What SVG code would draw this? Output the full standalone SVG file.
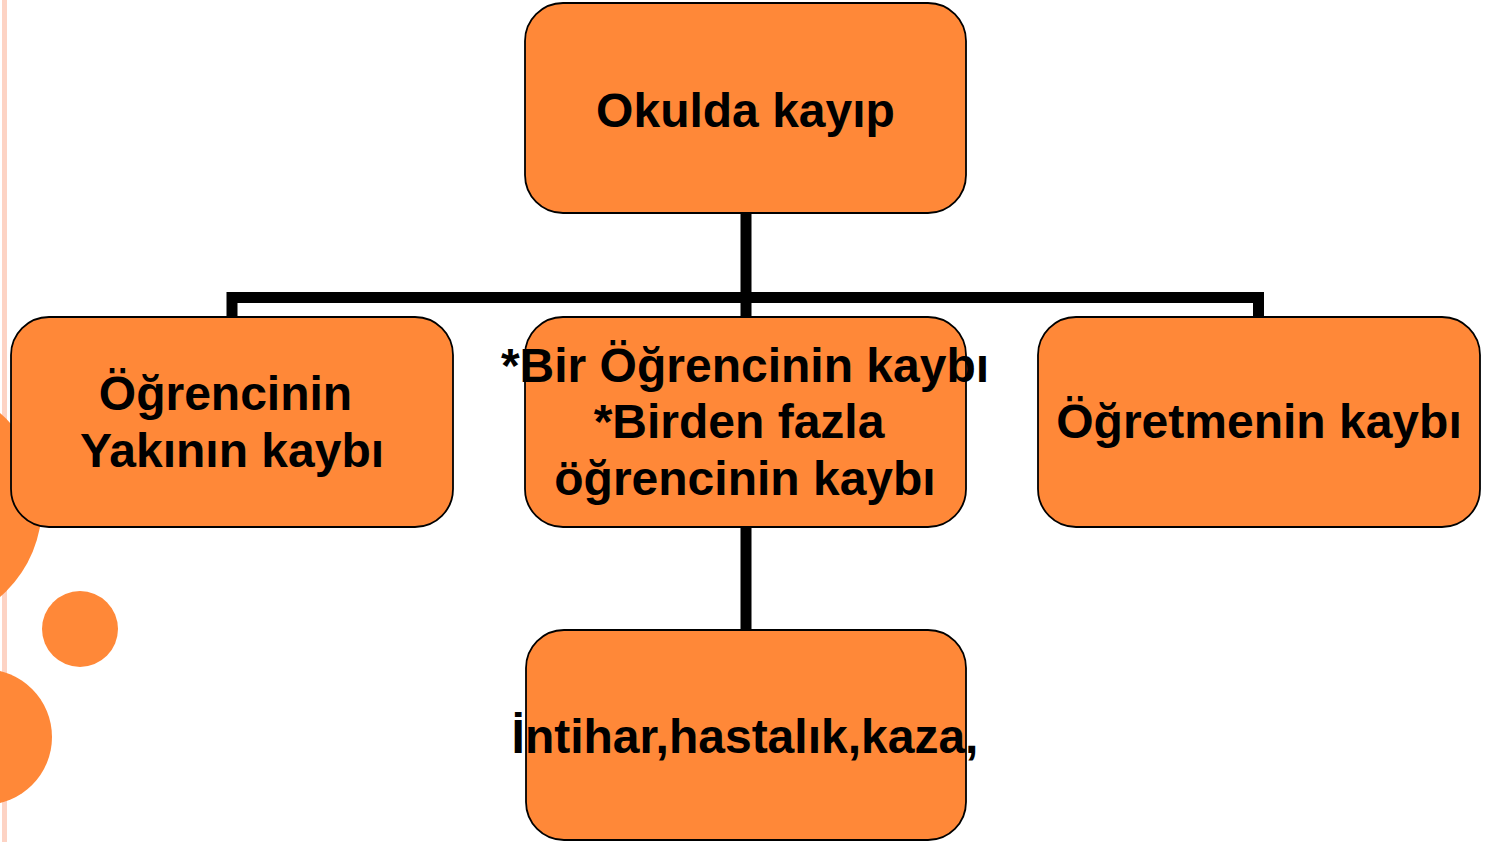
<svg xmlns="http://www.w3.org/2000/svg" width="1503" height="842" viewBox="0 0 1503 842">
<style>
.box{fill:#FF8838;stroke:#000;stroke-width:1.8}
.t{font-family:"Liberation Sans",Arial,sans-serif;font-weight:bold;font-size:48px;fill:#000;text-anchor:middle}
.c{fill:none;stroke:#000;stroke-width:11}
.deco{fill:#FF8838}
</style>
<rect width="1503" height="842" fill="#fff"/>
<g id="decor">
<rect x="2" y="0" width="5" height="842" fill="#FDD3C4"/>
<circle class="deco" cx="-80" cy="505" r="122"/>
<circle class="deco" cx="80" cy="629" r="38"/>
<circle class="deco" cx="-16" cy="737" r="68"/>
</g>
<g id="connectors">
<path class="c" d="M746 213V317"/>
<path class="c" d="M232 317V297.5H1258.5V317"/>
<path class="c" d="M746 527V630"/>
</g>
<g id="n-top">
<rect class="box" x="525" y="3" width="441" height="210" rx="38"/>
<text class="t" x="745.5" y="127">Okulda kayıp</text>
</g>
<g id="n-left">
<rect class="box" x="11" y="317" width="442" height="210" rx="38"/>
<text class="t" x="225.5" y="410">Öğrencinin</text>
<text class="t" x="232" y="467">Yakının kaybı</text>
</g>
<g id="n-mid">
<rect class="box" x="525" y="317" width="441" height="210" rx="38"/>
<text class="t" x="745" y="382">*Bir Öğrencinin kaybı</text>
<text class="t" x="739" y="438">*Birden fazla</text>
<text class="t" x="745" y="495">öğrencinin kaybı</text>
</g>
<g id="n-right">
<rect class="box" x="1038" y="317" width="442" height="210" rx="38"/>
<text class="t" x="1259" y="438">Öğretmenin kaybı</text>
</g>
<g id="n-bottom">
<rect class="box" x="526" y="630" width="440" height="210" rx="38"/>
<text class="t" x="745" y="753">İntihar,hastalık,kaza,</text>
</g>
</svg>
